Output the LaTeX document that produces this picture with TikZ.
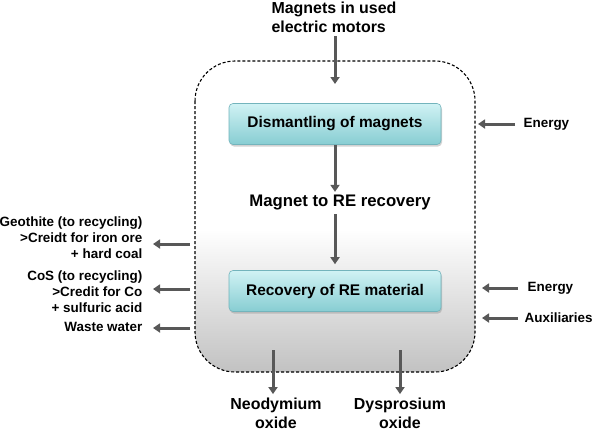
\documentclass[tikz,border=0pt]{standalone}
\usepackage{fontspec}
\setmainfont{Liberation Sans}
\usepackage{tikz}
\usetikzlibrary{arrows.meta,shadows,positioning}
\definecolor{flowgray}{RGB}{88,88,88}
\definecolor{boxtop}{RGB}{208,242,244}
\definecolor{boxbot}{RGB}{135,205,210}
\definecolor{boxline}{RGB}{115,180,188}
\pgfdeclareverticalshading{boundshade}{100bp}{color(0bp)=(gray!48); color(25bp)=(gray!48); color(48bp)=(white); color(100bp)=(white)}

\begin{document}
\begin{tikzpicture}[x=1bp,y=-1bp,>={Triangle[length=7bp,width=9bp]},semithick]
 \tikzstyle{flow}=[->,draw=flowgray,line width=3bp]
 \tikzstyle{process}=[draw=boxline,rounded corners=4bp,top color=boxtop,bottom color=boxbot,minimum width=212bp,minimum height=41bp,font=\bfseries\fontsize{15.5}{18}\selectfont,drop shadow={opacity=0.35,shadow xshift=1bp,shadow yshift=-2bp}]
 \tikzstyle{big}=[font=\bfseries\fontsize{16}{19}\selectfont,align=center]
 \tikzstyle{small}=[font=\bfseries\fontsize{13.5}{16}\selectfont]

   \useasboundingbox (0,0) rectangle (595,431);

   % system boundary
   \draw[dashed,dash pattern=on 3bp off 2bp,line width=1.1bp,rounded corners=40bp,
     shading=boundshade] (195,61) rectangle (475,372);

   \node[big,align=left] (motors) at (334,17) {Magnets in used\\electric motors};
   \node[process] (dism) at (335,124) {Dismantling of magnets};
   \node[big,font=\bfseries\fontsize{16.8}{19}\selectfont] (magrec) at (340,203) {Magnet to RE recovery};
   \node[process] (recov) at (335,291) {Recovery of RE material};

   \node[big] (neo) at (276,413) {Neodymium\\oxide};
   \node[big] (dys) at (400,413) {Dysprosium\\oxide};

   \node[small,align=right,anchor=east] (geo) at (146,238) {Geothite (to recycling)\\>Creidt for iron ore\\+ hard coal};
   \node[small,align=right,anchor=east] (cos) at (146,292) {CoS (to recycling)\\>Credit for Co\\+ sulfuric acid};
   \node[small,anchor=east] (waste) at (146,327) {Waste water};

   \node[small,anchor=west] (en1) at (520,124) {Energy};
   \node[small,anchor=west] (en2) at (524,288) {Energy};
   \node[small,anchor=west] (aux) at (521,318) {Auxiliaries};

   \coordinate (intop) at (335,84);
   \coordinate (neoout) at (273,350);
   \coordinate (dysout) at (400,350);
   \coordinate (geoout) at (190,244);
   \coordinate (cosout) at (190,289);
   \coordinate (wasteout) at (190,328);
   \coordinate (en1in) at (478,124);
   \coordinate (en2in) at (482,288);
   \coordinate (auxin) at (482,318);

   \draw[flow] (motors.south -| intop) -- (intop);
   \draw[flow] (dism.south) -- (dism.south |- magrec.north);
   \draw[flow,shorten >=6bp] (dism.south |- magrec.south) -- (recov.north);
   \draw[flow] (neoout) -- (neoout |- neo.north);
   \draw[flow] (dysout) -- (dysout |- dys.north);
   \draw[flow,shorten >=7bp] (geoout) -- (geoout -| geo.east);
   \draw[flow,shorten >=7bp] (cosout) -- (cosout -| cos.east);
   \draw[flow,shorten >=7bp] (wasteout) -- (wasteout -| waste.east);
   \draw[flow,shorten <=5bp] (en1.west) -- (en1in);
   \draw[flow,shorten <=6bp] (en2.west) -- (en2in);
   \draw[flow,shorten <=3bp] (aux.west) -- (auxin);

\end{tikzpicture}
\end{document}
